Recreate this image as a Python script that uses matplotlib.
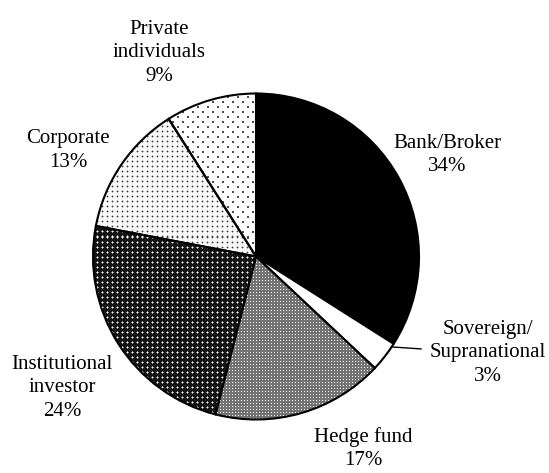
import numpy as np
import matplotlib.pyplot as plt

# Counterparty shares, clockwise from 12 o'clock
categories = ["Bank/Broker", "Sovereign/\nSupranational", "Hedge fund",
              "Institutional\ninvestor", "Corporate", "Private\nindividuals"]
shares = [34, 3, 17, 24, 13, 9]

W, H = 549, 473
fig = plt.figure(figsize=(W / 100, H / 100), dpi=100)
ax = fig.add_axes([0, 0, 1, 1])

cx, cy, r = 256, H - 256.5, 163

wedges, _ = ax.pie(shares, startangle=90, counterclock=False,
                   center=(cx, cy), radius=r,
                   colors=["black", "white", "none", "none", "none", "none"],
                   wedgeprops=dict(edgecolor="black", linewidth=1.5))


def tiled(tile):
    t = np.array(tile, dtype=float)
    reps = (H // t.shape[0] + 1, W // t.shape[1] + 1)
    return np.tile(t, reps)[:H, :W]


# dot-screen fills, one per shaded wedge (0 = black, 1 = white)
hedge = tiled([[0.45, 0.45, 0.45],
               [0.45, 1.00, 0.45],
               [0.45, 0.45, 0.45]])
inst = tiled([[0.08, 0.08, 0.08, 0.08, 0.08],
              [0.08, 0.08, 0.55, 0.08, 0.08],
              [0.08, 0.55, 1.00, 0.55, 0.08],
              [0.08, 0.08, 0.55, 0.08, 0.08],
              [0.08, 0.08, 0.08, 0.08, 0.08]])
corp = tiled([[0.97, 0.97, 0.97, 0.97, 0.97],
              [0.97, 0.97, 0.70, 0.97, 0.97],
              [0.97, 0.70, 0.25, 0.70, 0.97],
              [0.97, 0.97, 0.70, 0.97, 0.97],
              [0.97, 0.97, 0.97, 0.97, 0.97]])
priv_tile = np.ones((10, 10))
priv_tile[2:4, 2:4] = 0.3
priv_tile[7:9, 7:9] = 0.3
priv = tiled(priv_tile)

for w, pat in zip(wedges[2:], [hedge, inst, corp, priv]):
    im = ax.imshow(pat, cmap="gray", vmin=0, vmax=1, extent=(0, W, 0, H),
                   origin="upper", interpolation="nearest", zorder=1)
    im.set_clip_path(w)
    w.set_zorder(3)

# leader line for the small sovereign slice
sov = wedges[1]
ang = np.deg2rad(sov.theta2 - 0.12 * (sov.theta2 - sov.theta1))
x0, y0 = cx + r * np.cos(ang), cy + r * np.sin(ang)
ax.plot([x0, 421], [y0, y0 - 2], color="black", linewidth=1, zorder=4)

label_pos = [(447, 155), (488, 353), (363, 448.5),
             (62, 388), (68, 150.5), (159, 53)]
for name, val, (lx, ly) in zip(categories, shares, label_pos):
    ax.text(lx, H - ly, f"{name}\n{val}%", ha="center", va="center",
            fontsize=15, family="Liberation Serif", linespacing=1.3)

ax.set_xlim(0, W)
ax.set_ylim(0, H)
ax.set_aspect("equal")
ax.axis("off")

fig.savefig("out.png", dpi=100)
